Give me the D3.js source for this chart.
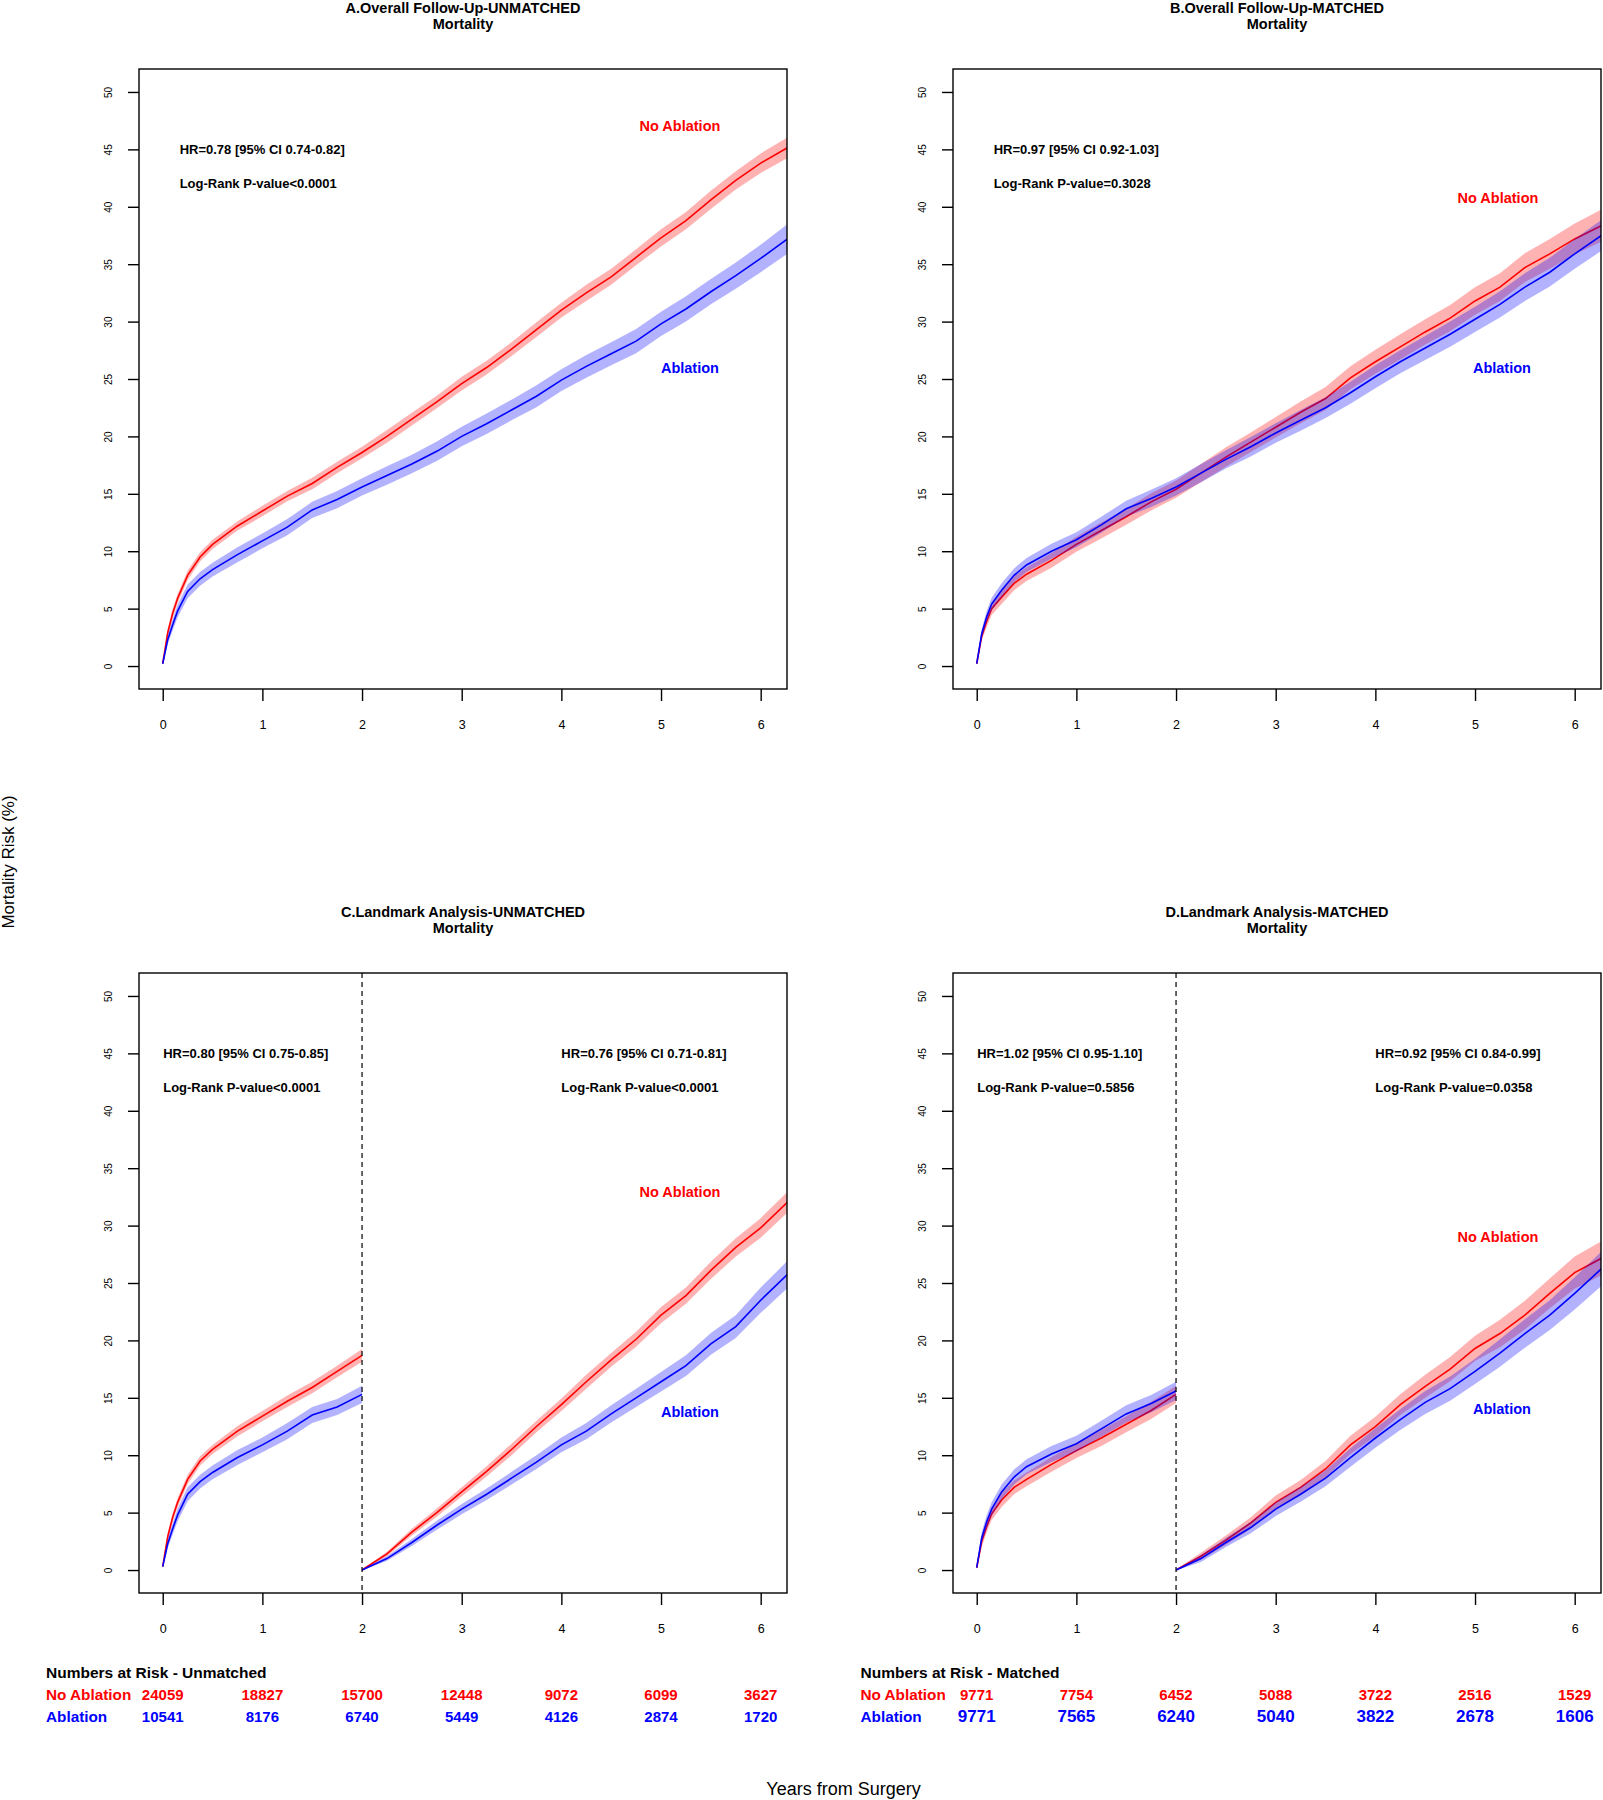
<!DOCTYPE html>
<html>
<head>
<meta charset="utf-8">
<script src="https://cdn.jsdelivr.net/npm/d3@7"></script>
<style>
  html, body { margin: 0; padding: 0; background: #fff; }
  svg { display: block; }
  text { font-family: "Liberation Sans", Arial, Helvetica, sans-serif; }
</style>
</head>
<body>
<svg id="chart" width="1603" height="1800"></svg>
<script>
// ---------------- DATA ----------------
const xTicks = [0, 1, 2, 3, 4, 5, 6];
const yTicks = [0, 5, 10, 15, 20, 25, 30, 35, 40, 45, 50];

// time points (years) for the full follow-up curves
const tFull = [0, 0.05, 0.1, 0.15, 0.25, 0.375, 0.5, 0.75, 1, 1.25, 1.5, 1.75, 2, 2.25, 2.5, 2.75, 3, 3.25, 3.5, 3.75, 4, 4.25, 4.5, 4.75, 5, 5.25, 5.5, 5.75, 6, 6.3];
// landmark: before 2 years, and after 2 years
const tLeft = [0, 0.05, 0.1, 0.15, 0.25, 0.375, 0.5, 0.75, 1, 1.25, 1.5, 1.75, 2];
const tRight = [2, 2.25, 2.5, 2.75, 3, 3.25, 3.5, 3.75, 4, 4.25, 4.5, 4.75, 5, 5.25, 5.5, 5.75, 6, 6.3];

// Panel A (unmatched, overall) mortality %
const aNoAbl = [0.2, 2.9, 4.6, 5.9, 7.9, 9.5, 10.6, 12.2, 13.5, 14.8, 15.9, 17.3, 18.6, 20.0, 21.5, 23.0, 24.6, 26.0, 27.6, 29.3, 31.0, 32.5, 33.9, 35.6, 37.3, 38.8, 40.6, 42.3, 43.8, 45.3];
const aNoAblCI = [0.1, 0.3, 0.4, 0.4, 0.4, 0.4, 0.4, 0.4, 0.45, 0.45, 0.5, 0.5, 0.5, 0.55, 0.55, 0.55, 0.6, 0.6, 0.6, 0.65, 0.65, 0.7, 0.7, 0.7, 0.75, 0.75, 0.8, 0.8, 0.85, 0.9];
const aAbl = [0.2, 2.3, 3.6, 4.8, 6.5, 7.6, 8.4, 9.7, 10.9, 12.1, 13.6, 14.5, 15.6, 16.6, 17.6, 18.7, 20.0, 21.1, 22.3, 23.5, 24.9, 26.1, 27.2, 28.3, 29.8, 31.1, 32.6, 34.0, 35.5, 37.4];
const aAblCI = [0.1, 0.4, 0.5, 0.55, 0.6, 0.6, 0.6, 0.65, 0.65, 0.7, 0.7, 0.75, 0.75, 0.8, 0.8, 0.85, 0.85, 0.9, 0.9, 0.95, 0.95, 1.0, 1.0, 1.05, 1.05, 1.1, 1.1, 1.15, 1.2, 1.3];

// Panel B (matched, overall)
const bNoAbl = [0.2, 2.6, 3.9, 5.0, 6.0, 7.2, 8.0, 9.2, 10.6, 11.8, 13.0, 14.3, 15.4, 16.8, 18.2, 19.5, 20.8, 22.1, 23.3, 25.1, 26.5, 27.8, 29.1, 30.3, 31.8, 33.0, 34.7, 35.9, 37.2, 38.5];
const bNoAblCI = [0.1, 0.4, 0.5, 0.55, 0.6, 0.6, 0.6, 0.65, 0.65, 0.7, 0.7, 0.75, 0.75, 0.8, 0.85, 0.85, 0.9, 0.95, 1.0, 1.0, 1.05, 1.1, 1.1, 1.15, 1.2, 1.2, 1.25, 1.3, 1.35, 1.4];
const bAbl = [0.2, 2.8, 4.3, 5.4, 6.6, 7.9, 8.8, 10.0, 11.0, 12.3, 13.7, 14.6, 15.6, 16.8, 18.0, 19.1, 20.3, 21.4, 22.5, 23.8, 25.2, 26.5, 27.7, 28.9, 30.2, 31.5, 33.0, 34.3, 35.9, 37.7];
const bAblCI = [0.1, 0.4, 0.5, 0.55, 0.6, 0.6, 0.6, 0.65, 0.65, 0.7, 0.7, 0.75, 0.75, 0.8, 0.8, 0.85, 0.85, 0.9, 0.9, 0.95, 1.0, 1.0, 1.05, 1.1, 1.1, 1.15, 1.2, 1.25, 1.3, 1.35];

// Panel C (unmatched, landmark)
const cNoAblL = [0.3, 2.9, 4.6, 5.9, 7.9, 9.5, 10.5, 12.1, 13.4, 14.7, 15.9, 17.3, 18.7];
const cNoAblLCI = [0.1, 0.3, 0.35, 0.4, 0.4, 0.4, 0.4, 0.45, 0.45, 0.5, 0.5, 0.5, 0.55];
const cAblL = [0.3, 2.3, 3.6, 4.8, 6.6, 7.7, 8.5, 9.8, 10.9, 12.1, 13.5, 14.2, 15.3];
const cAblLCI = [0.1, 0.4, 0.5, 0.55, 0.6, 0.6, 0.6, 0.65, 0.65, 0.7, 0.7, 0.7, 0.75];
const cNoAblR = [0, 1.4, 3.3, 5.0, 6.8, 8.6, 10.5, 12.5, 14.4, 16.4, 18.3, 20.1, 22.2, 23.9, 26.1, 28.1, 29.8, 32.3];
const cNoAblRCI = [0.05, 0.2, 0.3, 0.35, 0.4, 0.45, 0.5, 0.5, 0.55, 0.6, 0.6, 0.65, 0.7, 0.7, 0.75, 0.8, 0.85, 0.9];
const cAblR = [0, 1.0, 2.4, 3.9, 5.3, 6.6, 8.0, 9.4, 10.9, 12.1, 13.6, 15.0, 16.4, 17.8, 19.7, 21.2, 23.5, 26.0];
const cAblRCI = [0.05, 0.2, 0.3, 0.4, 0.45, 0.5, 0.55, 0.6, 0.65, 0.7, 0.75, 0.8, 0.85, 0.9, 0.95, 1.0, 1.1, 1.2];

// Panel D (matched, landmark)
const dNoAblL = [0.2, 2.5, 3.8, 4.9, 6.1, 7.2, 7.9, 9.2, 10.4, 11.5, 12.7, 13.9, 15.3];
const dNoAblLCI = [0.1, 0.5, 0.5, 0.55, 0.6, 0.6, 0.6, 0.65, 0.65, 0.7, 0.7, 0.75, 0.75];
const dAblL = [0.2, 2.8, 4.2, 5.3, 6.8, 8.1, 9.0, 10.1, 11.0, 12.3, 13.6, 14.5, 15.6];
const dAblLCI = [0.1, 0.5, 0.6, 0.6, 0.65, 0.65, 0.65, 0.7, 0.7, 0.7, 0.75, 0.75, 0.8];
const dNoAblR = [0, 1.2, 2.6, 4.1, 5.9, 7.2, 8.8, 10.9, 12.5, 14.4, 16.0, 17.5, 19.3, 20.6, 22.2, 24.1, 25.9, 27.3];
const dNoAblRCI = [0.05, 0.3, 0.4, 0.5, 0.6, 0.65, 0.7, 0.8, 0.85, 0.9, 1.0, 1.05, 1.1, 1.2, 1.25, 1.3, 1.4, 1.5];
const dAblR = [0, 1.0, 2.4, 3.7, 5.3, 6.6, 8.0, 9.8, 11.5, 13.1, 14.6, 15.8, 17.3, 18.9, 20.6, 22.2, 24.1, 26.5];
const dAblRCI = [0.05, 0.3, 0.4, 0.5, 0.6, 0.65, 0.7, 0.8, 0.85, 0.9, 1.0, 1.05, 1.1, 1.2, 1.25, 1.3, 1.4, 1.5];

// Numbers at risk
const riskYears = [0, 1, 2, 3, 4, 5, 6];
const riskUnmatchedNoAbl = [24059, 18827, 15700, 12448, 9072, 6099, 3627];
const riskUnmatchedAbl = [10541, 8176, 6740, 5449, 4126, 2874, 1720];
const riskMatchedNoAbl = [9771, 7754, 6452, 5088, 3722, 2516, 1529];
const riskMatchedAbl = [9771, 7565, 6240, 5040, 3822, 2678, 1606];

// ---------------- LAYOUT ----------------
const RED = "#ff0000", BLUE = "#0000ff";
const svg = d3.select("#chart");

const zip = (t, v, ci) => t.map((x, i) => ({ x: x, y: v[i], lo: v[i] - ci[i], hi: v[i] + ci[i] }));

const panels = [
  { id: "A", title: "A.Overall Follow-Up-UNMATCHED", left: 139, right: 787, top: 69, bottom: 689,
    segments: [[zip(tFull, aNoAbl, aNoAblCI), zip(tFull, aAbl, aAblCI)]],
    stats: [{ x: 0.17, hr: "HR=0.78 [95% CI 0.74-0.82]", p: "Log-Rank P-value<0.0001" }],
    noAbl: [5.19, 47], abl: [5.29, 26], dashed: false },
  { id: "B", title: "B.Overall Follow-Up-MATCHED", left: 953, right: 1601, top: 69, bottom: 689,
    segments: [[zip(tFull, bNoAbl, bNoAblCI), zip(tFull, bAbl, bAblCI)]],
    stats: [{ x: 0.17, hr: "HR=0.97 [95% CI 0.92-1.03]", p: "Log-Rank P-value=0.3028" }],
    noAbl: [5.23, 40.8], abl: [5.27, 26], dashed: false },
  { id: "C", title: "C.Landmark Analysis-UNMATCHED", left: 139, right: 787, top: 973, bottom: 1593,
    segments: [[zip(tLeft, cNoAblL, cNoAblLCI), zip(tLeft, cAblL, cAblLCI)],
               [zip(tRight, cNoAblR, cNoAblRCI), zip(tRight, cAblR, cAblRCI)]],
    stats: [{ x: 0, hr: "HR=0.80 [95% CI 0.75-0.85]", p: "Log-Rank P-value<0.0001" },
            { x: 4.0, hr: "HR=0.76 [95% CI 0.71-0.81]", p: "Log-Rank P-value<0.0001" }],
    noAbl: [5.19, 32.9], abl: [5.29, 13.8], dashed: true },
  { id: "D", title: "D.Landmark Analysis-MATCHED", left: 953, right: 1601, top: 973, bottom: 1593,
    segments: [[zip(tLeft, dNoAblL, dNoAblLCI), zip(tLeft, dAblL, dAblLCI)],
               [zip(tRight, dNoAblR, dNoAblRCI), zip(tRight, dAblR, dAblRCI)]],
    stats: [{ x: 0, hr: "HR=1.02 [95% CI 0.95-1.10]", p: "Log-Rank P-value=0.5856" },
            { x: 4.0, hr: "HR=0.92 [95% CI 0.84-0.99]", p: "Log-Rank P-value=0.0358" }],
    noAbl: [5.23, 29], abl: [5.27, 14], dashed: true }
];

const defs = svg.append("defs");

panels.forEach(p => {
  const x = d3.scaleLinear().domain([-0.238, 6.264]).range([p.left, p.right]);
  const y = d3.scaleLinear().domain([-2, 52]).range([p.bottom, p.top]);
  const g = svg.append("g");

  // titles
  const cx = (p.left + p.right) / 2;
  g.append("text").attr("x", cx).attr("y", p.top - 61).attr("text-anchor", "middle")
    .attr("dominant-baseline", "central").attr("font-size", 14.5).attr("font-weight", "bold").text(p.title);
  g.append("text").attr("x", cx).attr("y", p.top - 45).attr("text-anchor", "middle")
    .attr("dominant-baseline", "central").attr("font-size", 14.5).attr("font-weight", "bold").text("Mortality");

  // clip
  const clipId = "clip" + p.id;
  defs.append("clipPath").attr("id", clipId).append("rect")
    .attr("x", p.left).attr("y", p.top).attr("width", p.right - p.left).attr("height", p.bottom - p.top);

  const plot = g.append("g").attr("clip-path", `url(#${clipId})`);
  const area = d3.area().x(d => x(d.x)).y0(d => y(d.lo)).y1(d => y(d.hi));
  const line = d3.line().x(d => x(d.x)).y(d => y(d.y));

  p.segments.forEach(seg => {
    const [red, blue] = seg;
    plot.append("path").datum(red).attr("d", area).attr("fill", RED).attr("fill-opacity", 0.3);
    plot.append("path").datum(red).attr("d", line).attr("fill", "none").attr("stroke", RED).attr("stroke-width", 1.6);
    plot.append("path").datum(blue).attr("d", area).attr("fill", BLUE).attr("fill-opacity", 0.3);
    plot.append("path").datum(blue).attr("d", line).attr("fill", "none").attr("stroke", BLUE).attr("stroke-width", 1.6);
  });

  if (p.dashed) {
    g.append("line").attr("x1", x(2)).attr("x2", x(2)).attr("y1", p.top).attr("y2", p.bottom)
      .attr("stroke", "#000").attr("stroke-width", 1.2).attr("stroke-dasharray", "5,4");
  }

  // box
  g.append("rect").attr("x", p.left).attr("y", p.top).attr("width", p.right - p.left).attr("height", p.bottom - p.top)
    .attr("fill", "none").attr("stroke", "#000").attr("stroke-width", 1.4);

  // x axis
  const xa = g.append("g").attr("transform", `translate(0,${p.bottom})`)
    .call(d3.axisBottom(x).tickValues(xTicks).tickSize(12).tickPadding(19).tickFormat(d3.format("d")));
  xa.select(".domain").remove();
  xa.selectAll(".tick line").attr("stroke-width", 1.4);
  xa.selectAll(".tick text").attr("font-size", 12.5).attr("font-family", "Liberation Sans, Arial, sans-serif")
    .attr("fill", "#000");

  // y axis
  const ya = g.append("g").attr("transform", `translate(${p.left},0)`)
    .call(d3.axisLeft(y).tickValues(yTicks).tickSize(11).tickPadding(0).tickFormat(d3.format("d")));
  ya.select(".domain").remove();
  ya.selectAll(".tick line").attr("stroke-width", 1.4);
  ya.selectAll(".tick text").attr("font-size", 10).attr("font-family", "Liberation Sans, Arial, sans-serif")
    .attr("fill", "#000").attr("text-anchor", "middle").attr("dominant-baseline", "central")
    .attr("dy", null).attr("x", -31).attr("transform", "rotate(-90,-31,0)");

  // stats annotations
  p.stats.forEach(s => {
    g.append("text").attr("x", x(s.x) + (s.x === 0 ? 0.5 : 0)).attr("y", y(45)).attr("dominant-baseline", "central")
      .attr("font-size", 13).attr("font-weight", "bold").text(s.hr);
    g.append("text").attr("x", x(s.x) + (s.x === 0 ? 0.5 : 0)).attr("y", y(42)).attr("dominant-baseline", "central")
      .attr("font-size", 13).attr("font-weight", "bold").text(s.p);
  });

  // group labels
  g.append("text").attr("x", x(p.noAbl[0])).attr("y", y(p.noAbl[1])).attr("text-anchor", "middle")
    .attr("dominant-baseline", "central").attr("font-size", 14.5).attr("font-weight", "bold").attr("fill", RED).text("No Ablation");
  g.append("text").attr("x", x(p.abl[0])).attr("y", y(p.abl[1])).attr("text-anchor", "middle")
    .attr("dominant-baseline", "central").attr("font-size", 14.5).attr("font-weight", "bold").attr("fill", BLUE).text("Ablation");
});

// ---------------- NUMBERS AT RISK ----------------
const tables = [
  { title: "Numbers at Risk - Unmatched", labelX: 46, panel: panels[2], red: riskUnmatchedNoAbl, blue: riskUnmatchedAbl, blueSize: 15 },
  { title: "Numbers at Risk - Matched", labelX: 860.5, panel: panels[3], red: riskMatchedNoAbl, blue: riskMatchedAbl, blueSize: 17 }
];
tables.forEach(tb => {
  const x = d3.scaleLinear().domain([-0.238, 6.264]).range([tb.panel.left, tb.panel.right]);
  const g = svg.append("g").attr("font-weight", "bold");
  g.append("text").attr("x", tb.labelX).attr("y", 1672).attr("dominant-baseline", "central")
    .attr("font-size", 15.5).text(tb.title);
  g.append("text").attr("x", tb.labelX).attr("y", 1694.5).attr("dominant-baseline", "central")
    .attr("font-size", 15.3).attr("fill", RED).text("No Ablation");
  g.append("text").attr("x", tb.labelX).attr("y", 1716.5).attr("dominant-baseline", "central")
    .attr("font-size", 15.3).attr("fill", BLUE).text("Ablation");
  g.selectAll(".r").data(riskYears).enter().append("text")
    .attr("x", d => x(d)).attr("y", 1694.5).attr("text-anchor", "middle").attr("dominant-baseline", "central")
    .attr("font-size", 15).attr("fill", RED).text((d, i) => tb.red[i]);
  g.selectAll(".b").data(riskYears).enter().append("text")
    .attr("x", d => x(d)).attr("y", 1716.5).attr("text-anchor", "middle").attr("dominant-baseline", "central")
    .attr("font-size", tb.blueSize).attr("fill", BLUE).text((d, i) => tb.blue[i]);
});

// ---------------- OUTER AXIS LABELS ----------------
svg.append("text").attr("x", 843.5).attr("y", 1789).attr("text-anchor", "middle").attr("dominant-baseline", "central")
  .attr("font-size", 18).text("Years from Surgery");
svg.append("text").attr("transform", "translate(8,862) rotate(-90)").attr("text-anchor", "middle")
  .attr("dominant-baseline", "central").attr("font-size", 17).text("Mortality Risk (%)");
</script>
</body>
</html>
